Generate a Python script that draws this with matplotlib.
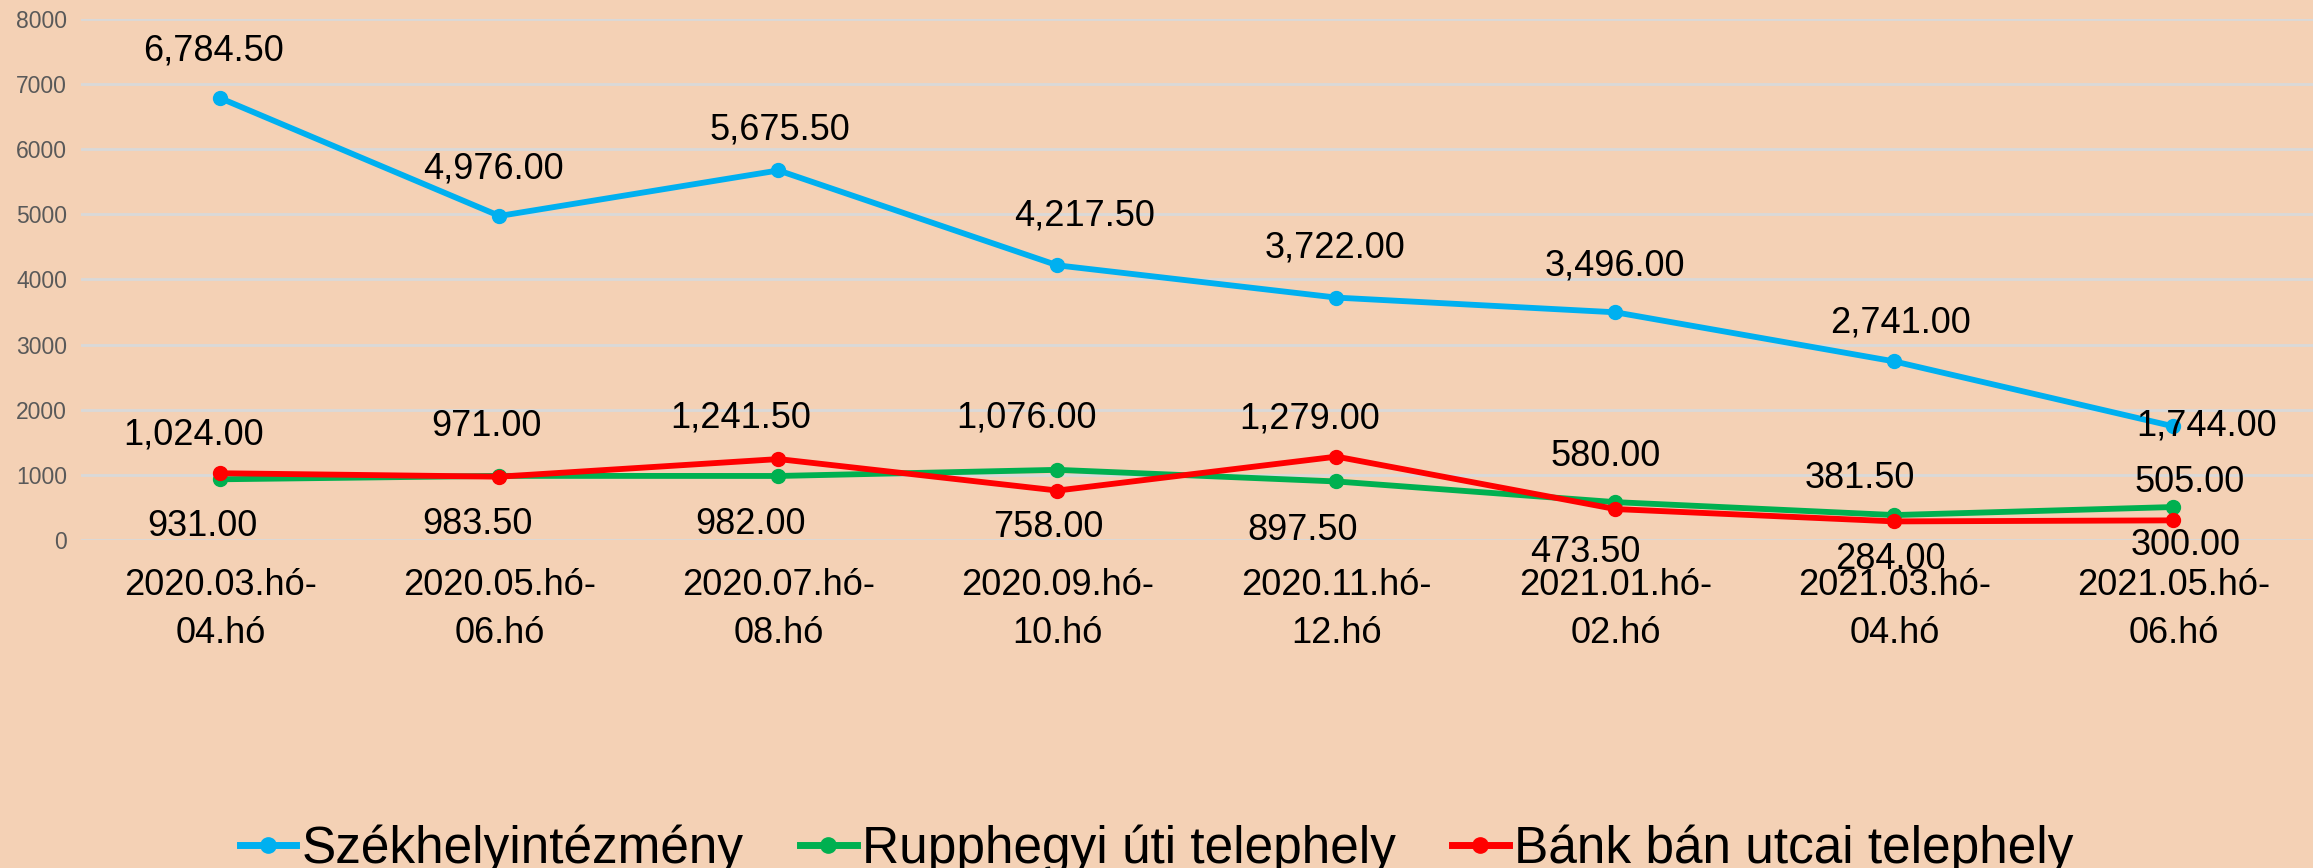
import numpy as np
import matplotlib
matplotlib.use("Agg")
import matplotlib.pyplot as plt
from matplotlib.lines import Line2D

plt.rcParams["font.family"] = ["Liberation Sans Narrow", "Liberation Sans", "DejaVu Sans"]

categories = [
    "2020.03.hó-\n04.hó",
    "2020.05.hó-\n06.hó",
    "2020.07.hó-\n08.hó",
    "2020.09.hó-\n10.hó",
    "2020.11.hó-\n12.hó",
    "2021.01.hó-\n02.hó",
    "2021.03.hó-\n04.hó",
    "2021.05.hó-\n06.hó",
]
szekhely = [6784.5, 4976.0, 5675.5, 4217.5, 3722.0, 3496.0, 2741.0, 1744.0]
rupphegyi = [931.0, 983.5, 982.0, 1076.0, 897.5, 580.0, 381.5, 505.0]
bank_ban = [1024.0, 971.0, 1241.5, 758.0, 1279.0, 473.5, 284.0, 300.0]

series_names = ["Székhelyintézmény", "Rupphegyi úti telephely", "Bánk bán utcai telephely"]
colors = ["#00B0F0", "#00B050", "#FF0000"]

# label offsets (dx, dy) in pixels
blue_off = [(-7, 47), (-6, 47), (1, 40), (27, 49), (-1, 50), (-1, 46), (6, 38), (33, 0)]
green_off = [(-18, -47), (-22, -49), (-28, -49), (-31, 52), (-34, -49), (-10, 46), (-35, 37), (16, 25)]
red_off = [(-27, 38), (-13, 50), (-38, 41), (-9, -37), (-27, 38), (-30, -43), (-4, -38), (12, -25)]

fig = plt.figure(figsize=(23.13, 8.68), dpi=100)
fig.patch.set_facecolor("#F4D1B5")
ax = fig.add_axes([0.035, 0.378, 0.965, 0.6])
ax.set_facecolor("#F4D1B5")

x = np.arange(len(categories))
px = 72 / 100

for vals, col, name, offs in [
    (szekhely, colors[0], series_names[0], blue_off),
    (rupphegyi, colors[1], series_names[1], green_off),
    (bank_ban, colors[2], series_names[2], red_off),
]:
    ax.plot(x, vals, color=col, lw=4.2, marker="o", ms=10, label=name, zorder=3)
    for xi, v, (dx, dy) in zip(x, vals, offs):
        ax.annotate(f"{v:,.2f}", (xi, v), xytext=(dx * px, dy * px), textcoords="offset points",
                    ha="center", va="center", fontsize=26, color="black", zorder=4)

ax.set_xlim(-0.5, 7.5)
ax.set_ylim(0, 8000)
ax.set_yticks(np.arange(0, 8001, 1000))
ax.grid(axis="y", color="#D9D9D9", lw=2)
ax.set_axisbelow(True)
for s in ax.spines.values():
    s.set_visible(False)
ax.tick_params(axis="y", length=0, labelsize=16.5, labelcolor="#595959", pad=10)
ax.tick_params(axis="x", length=0, labelsize=26, pad=20)
ax.set_xticks(x)
ax.set_xticklabels(categories, linespacing=1.5)

handles = [Line2D([0], [0], color=c, lw=5, marker="o", ms=11) for c in colors]
fig.legend(handles, series_names, loc="center", bbox_to_anchor=(0.5, 0.022), ncol=3,
           frameon=False, fontsize=37, handlelength=1.1, handletextpad=0.1, columnspacing=1.1)

fig.savefig("out.png", dpi=100, facecolor=fig.get_facecolor())
